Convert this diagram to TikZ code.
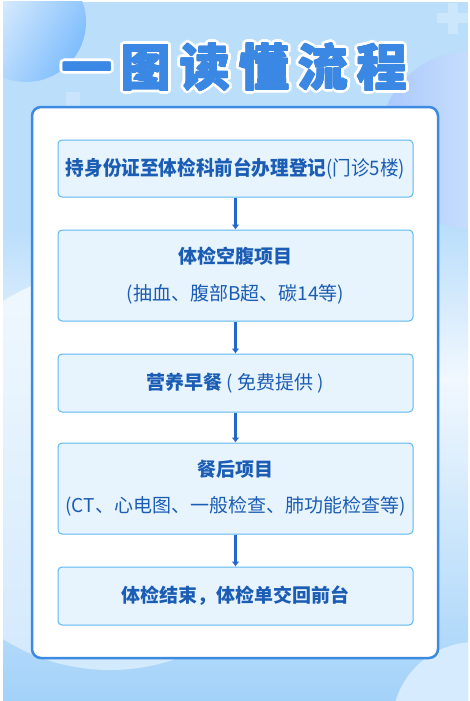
\documentclass[tikz,border=0pt]{standalone}
\usepackage{fontspec}
\setmainfont{Noto Sans CJK SC}
\usetikzlibrary{arrows.meta}
\definecolor{titleblue}{HTML}{3A88E3}
\definecolor{txtblue}{HTML}{1B5DB5}
\definecolor{boxfill}{HTML}{E7F4FD}
\definecolor{boxline}{HTML}{5DB7F0}
\definecolor{panelline}{HTML}{3D8BE0}
\definecolor{arrowblue}{HTML}{2367C9}
\definecolor{bgtop}{HTML}{BBDEFB}
\definecolor{bgmid}{HTML}{F1F8FE}
\definecolor{bgbot}{HTML}{A3D2F9}
\tikzset{
  stepbox/.style={draw=boxline, line width=1pt, fill=boxfill, rounded corners=4pt,
    minimum width=355pt, inner sep=0pt, align=center, text=txtblue},
  flowarrow/.style={draw=arrowblue, line width=3pt, -{Latex[length=5pt,width=8pt]}},
  titlew/.style={text=white, inner sep=0pt, anchor=base, font=\bfseries\fontsize{50}{50}\selectfont},
  titleb/.style={text=titleblue, inner sep=0pt, anchor=base, font=\bfseries\fontsize{50}{50}\selectfont},
}
\begin{document}
\begin{tikzpicture}[x=1pt,y=-1pt]
\useasboundingbox (0,0) rectangle (470,701);
\fill[white] (0,0) rectangle (470,701);
% background
\begin{scope}
  \clip (3,2) rectangle (468,700);
  \fill[bgtop] (3,2) rectangle (468,230);
  \shade[top color=bgtop, bottom color=bgmid] (3,229) rectangle (468,380);
  \shade[top color=bgmid, bottom color=bgbot] (3,379) rectangle (468,700);
  % decorative circles
  \shade[left color=white!80!bgtop, right color=blue!20!bgtop!85!cyan, shading angle=60] (26,22) circle[radius=60];
  \shade[left color=bgtop!90!blue, right color=white!60!bgtop] (468,140) circle[radius=88];
  \shade[top color=bgmid, bottom color=white!35!bgtop] (110,470) circle[radius=200];
  \fill[white!40!bgtop] (475,725) circle[radius=83];
  % plus signs
  \fill[white!25!bgtop] (448,3) rectangle (458,34);
  \fill[white!25!bgtop] (437,13) rectangle (470,23);
  \fill[white!20!bgtop] (66,92) rectangle (80,130);
\end{scope}
% panel
\draw[panelline, line width=2.5pt, fill=white, rounded corners=9pt] (32,107) rectangle (438,658);
% title
\foreach \ch [count=\i from 0] in {一,图,读,懂,流,程}{
  \foreach \a in {0,20,...,340}{
    \node[titlew] at ({87+59*\i+3.4*cos(\a)},{86+3.4*sin(\a)}) {\ch};
  }
}
\foreach \ch [count=\i from 0] in {一,图,读,懂,流,程}{
  \foreach \a in {0,45,...,315}{
    \node[titleb] at ({87+59*\i+0.8*cos(\a)},{86+0.8*sin(\a)}) {\ch};
  }
  \node[titleb] (t\i) at ({87+59*\i},86) {\ch};
}
% steps
\node[stepbox, minimum height=57pt, font=\fontsize{20}{24}\selectfont] (b1) at (235.5,168.5)
  {\scalebox{0.93}[1]{\textbf{持身份证至体检科前台办理登记}(门诊5楼)}};
\node[stepbox, minimum height=91pt, font=\fontsize{19}{37}\selectfont] (b2) at (235.5,275.5)
  {\textbf{体检空腹项目}\\(抽血、腹部B超、碳14等)};
\node[stepbox, minimum height=58pt, font=\fontsize{19}{23}\selectfont] (b3) at (235.5,383)
  {\textbf{营养早餐} ( 免费提供 )};
\node[stepbox, minimum height=91pt, font=\fontsize{19}{36}\selectfont] (b4) at (235.5,488.5)
  {\textbf{餐后项目}\\(CT、心电图、一般检查、肺功能检查等)};
\node[stepbox, minimum height=58pt, font=\bfseries\fontsize{19}{23}\selectfont] (b5) at (235.5,596)
  {体检结束，体检单交回前台};
\draw[flowarrow] (b1.south) -- (b2.north);
\draw[flowarrow] (b2.south) -- (b3.north);
\draw[flowarrow] (b3.south) -- (b4.north);
\draw[flowarrow] (b4.south) -- (b5.north);
\end{tikzpicture}
\end{document}
